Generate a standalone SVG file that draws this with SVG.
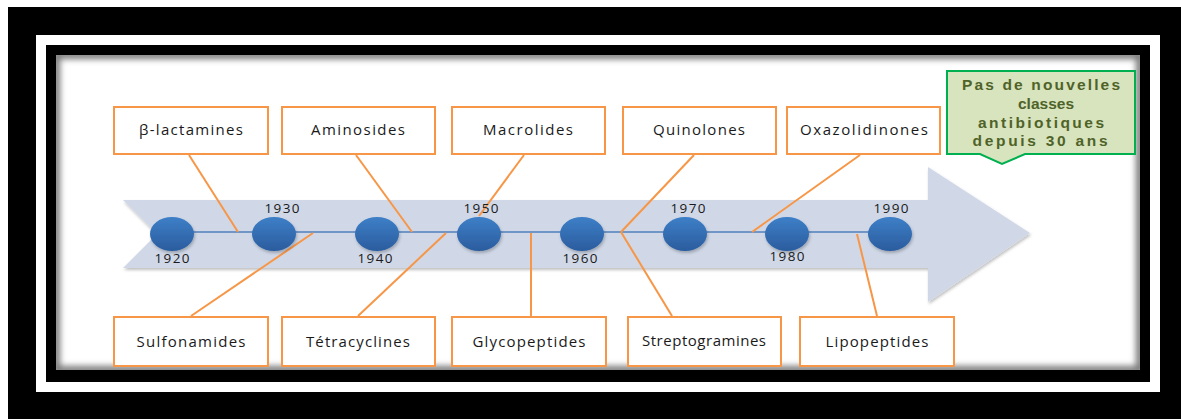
<svg xmlns="http://www.w3.org/2000/svg" width="1181" height="419" viewBox="0 0 1181 419">
<style>
.box{fill:#ffffff;stroke:#f79646;stroke-width:2}
.lbl{font-family:"Open Sans","Liberation Sans",sans-serif;font-size:15px;fill:#1a1a1a;text-anchor:middle}
.yr{font-family:"Open Sans","Liberation Sans",sans-serif;font-size:13.5px;fill:#1a1a1a;text-anchor:middle}
.conn line{stroke:#f79646;stroke-width:2}
.dot{fill:url(#dotg)}
.gtxt{font-family:"Liberation Sans",Arial,sans-serif;font-size:15.5px;font-weight:bold;fill:#4f6228;text-anchor:middle}
</style>
<defs>
<linearGradient id="dotg" x1="0" y1="0" x2="0" y2="1">
<stop offset="0" stop-color="#3d7fc7"/>
<stop offset="1" stop-color="#2b5c9e"/>
</linearGradient>
<clipPath id="cc"><rect x="56" y="55" width="1084" height="315"/></clipPath>
<filter id="blur" x="-5%" y="-5%" width="110%" height="110%"><feGaussianBlur stdDeviation="3"/></filter>
<filter id="sh" x="-10%" y="-10%" width="120%" height="130%"><feDropShadow dx="1" dy="2" stdDeviation="1.5" flood-color="#000" flood-opacity="0.25"/></filter>
</defs>
<rect x="0" y="0" width="1181" height="419" fill="#ffffff"/>
<rect x="8" y="7" width="1173" height="412" fill="#000000"/>
<rect x="36" y="35" width="1124" height="357" fill="#ffffff"/>
<rect x="46" y="45" width="1104" height="337" fill="#000000"/>
<rect x="56" y="55" width="1084" height="315" fill="#ffffff"/>
<g clip-path="url(#cc)"><rect x="56" y="55" width="1084" height="315" fill="none" stroke="#777" stroke-width="8" filter="url(#blur)"/></g>

<g id="arrow">
<polygon points="123,200 928,200 928,167 1030,233 928,302 928,268 123,268 157,234" fill="#d0d8e8" filter="url(#sh)"/>
<line x1="160" y1="232" x2="897" y2="232" stroke="#4f81bd" stroke-width="1.5"/>
</g>

<g class="conn" id="connectors">
<line x1="189" y1="155" x2="238" y2="232"/>
<line x1="191" y1="316" x2="313" y2="233"/>
<line x1="356" y1="155" x2="412" y2="232"/>
<line x1="358" y1="316" x2="446" y2="233"/>
<line x1="524" y1="155" x2="479" y2="216"/>
<line x1="531" y1="233" x2="531" y2="317"/>
<line x1="694" y1="155" x2="621" y2="232"/>
<line x1="621" y1="232" x2="672" y2="316"/>
<line x1="860" y1="155" x2="752" y2="232"/>
<line x1="857" y1="234" x2="877" y2="316"/>
</g>

<g id="timeline">
<ellipse class="dot" cx="172" cy="234" rx="22" ry="17" filter="url(#sh)"/>
<ellipse class="dot" cx="274" cy="234" rx="22" ry="17" filter="url(#sh)"/>
<ellipse class="dot" cx="377" cy="234" rx="22" ry="17" filter="url(#sh)"/>
<ellipse class="dot" cx="479" cy="234" rx="22" ry="17" filter="url(#sh)"/>
<ellipse class="dot" cx="582" cy="234" rx="22" ry="17" filter="url(#sh)"/>
<ellipse class="dot" cx="685" cy="234" rx="22" ry="17" filter="url(#sh)"/>
<ellipse class="dot" cx="787" cy="234" rx="22" ry="17" filter="url(#sh)"/>
<ellipse class="dot" cx="890" cy="234" rx="22" ry="17" filter="url(#sh)"/>
<text class="yr" x="172" y="263" textLength="35" lengthAdjust="spacing">1920</text>
<text class="yr" x="282" y="213" textLength="35" lengthAdjust="spacing">1930</text>
<text class="yr" x="375" y="263" textLength="35" lengthAdjust="spacing">1940</text>
<text class="yr" x="481" y="213" textLength="35" lengthAdjust="spacing">1950</text>
<text class="yr" x="580" y="263" textLength="35" lengthAdjust="spacing">1960</text>
<text class="yr" x="688" y="213" textLength="35" lengthAdjust="spacing">1970</text>
<text class="yr" x="787" y="261" textLength="35" lengthAdjust="spacing">1980</text>
<text class="yr" x="891" y="213" textLength="35" lengthAdjust="spacing">1990</text>
</g>

<g id="n-betalactamines"><rect class="box" x="114" y="107" width="154" height="47"/><text class="lbl" x="191" y="135" textLength="104" lengthAdjust="spacing">β-lactamines</text></g>
<g id="n-aminosides"><rect class="box" x="282" y="107" width="153" height="47"/><text class="lbl" x="358" y="135" textLength="94" lengthAdjust="spacing">Aminosides</text></g>
<g id="n-macrolides"><rect class="box" x="452" y="107" width="153" height="47"/><text class="lbl" x="528" y="135" textLength="90" lengthAdjust="spacing">Macrolides</text></g>
<g id="n-quinolones"><rect class="box" x="623" y="107" width="153" height="47"/><text class="lbl" x="699" y="135" textLength="92" lengthAdjust="spacing">Quinolones</text></g>
<g id="n-oxazolidinones"><rect class="box" x="787" y="107" width="153" height="47"/><text class="lbl" x="864" y="135" textLength="128" lengthAdjust="spacing">Oxazolidinones</text></g>

<g id="n-sulfonamides"><rect class="box" x="114" y="317" width="154" height="49"/><text class="lbl" x="191" y="347" textLength="109" lengthAdjust="spacing">Sulfonamides</text></g>
<g id="n-tetracyclines"><rect class="box" x="282" y="317" width="153" height="49"/><text class="lbl" x="358" y="347" textLength="104" lengthAdjust="spacing">Tétracyclines</text></g>
<g id="n-glycopeptides"><rect class="box" x="452" y="317" width="154" height="49"/><text class="lbl" x="529" y="347" textLength="113" lengthAdjust="spacing">Glycopeptides</text></g>
<g id="n-streptogramines"><rect class="box" x="628" y="317" width="153" height="49"/><text class="lbl" x="704" y="346" textLength="124" lengthAdjust="spacing">Streptogramines</text></g>
<g id="n-lipopeptides"><rect class="box" x="800" y="317" width="154" height="49"/><text class="lbl" x="877" y="347" textLength="103" lengthAdjust="spacing">Lipopeptides</text></g>

<g id="n-callout">
<path d="M947,71 H1135 V154 H1025 L1002,164 L980,154 H947 Z" fill="#d7e4bd" stroke="#00b050" stroke-width="2"/>
<text class="gtxt" x="1041" y="90" textLength="158" lengthAdjust="spacing">Pas de nouvelles</text>
<text class="gtxt" x="1046" y="109">classes</text>
<text class="gtxt" x="1041" y="128" textLength="126" lengthAdjust="spacing">antibiotiques</text>
<text class="gtxt" x="1040" y="146" textLength="135" lengthAdjust="spacing">depuis 30 ans</text>
</g>
</svg>
